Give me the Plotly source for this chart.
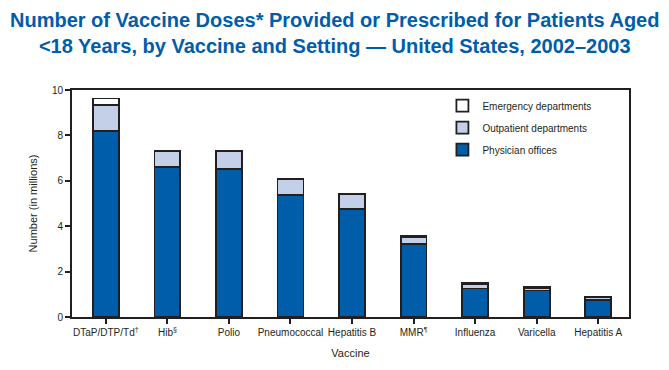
import plotly.graph_objects as go

vaccines = ["DTaP/DTP/Td<sup>†</sup>", "Hib<sup>§</sup>", "Polio", "Pneumococcal",
            "Hepatitis B", "MMR<sup>¶</sup>", "Influenza", "Varicella", "Hepatitis A"]
physician_offices = [8.2, 6.62, 6.53, 5.36, 4.77, 3.2, 1.26, 1.17, 0.76]
outpatient_departments = [1.13, 0.68, 0.76, 0.71, 0.64, 0.34, 0.2, 0.1, 0.1]
emergency_departments = [0.3, 0.03, 0.02, 0.02, 0.02, 0.02, 0.03, 0.05, 0.04]
y_ticks = [0, 2, 4, 6, 8, 10]

FONT = "Liberation Sans, Arial, sans-serif"
line = dict(color="#231f20", width=1.8)

fig = go.Figure()
fig.add_trace(go.Bar(x=vaccines, y=physician_offices, name="Physician offices", legendgroup="a",
                     legendrank=3, marker=dict(color="#005DAA", line=line), width=0.42))
fig.add_trace(go.Bar(x=vaccines, y=outpatient_departments, name="Outpatient departments", legendgroup="b",
                     legendrank=2, marker=dict(color="#C4D0E8", line=line), width=0.42))
fig.add_trace(go.Bar(x=vaccines, y=emergency_departments, name="Emergency departments", legendgroup="c",
                     legendrank=1, marker=dict(color="#FFFFFF", line=line), width=0.42))

fig.update_layout(
    width=669, height=370,
    barmode="stack",
    plot_bgcolor="white", paper_bgcolor="white",
    margin=dict(l=72, r=40, t=90, b=53),
    font=dict(family=FONT, size=10, color="#231f20"),
    annotations=[dict(
        text="Number of Vaccine Doses* Provided or Prescribed for Patients Aged<br>&lt;18 Years, by Vaccine and Setting — United States, 2002–2003",
        xref="paper", yref="paper", x=0.5, y=1, xshift=-16,
        yanchor="bottom", xanchor="center", showarrow=False, yshift=31,
        font=dict(family=FONT, size=20, color="#005DAA", weight="bold"),
    )],
    legend=dict(
        x=0.665, y=0.995, xanchor="left", yanchor="top",
        traceorder="grouped", tracegroupgap=3,
        bgcolor="rgba(0,0,0,0)",
        font=dict(size=10, color="#231f20"),
    ),
    showlegend=True,
)
fig.update_xaxes(
    range=[-0.55, 8.5],
    showline=True, linecolor="#231f20", linewidth=2, mirror=True,
    ticks="outside", ticklen=5, tickwidth=1.5, tickcolor="#231f20",
    tickfont=dict(size=10), showgrid=False,
    title=dict(text="Vaccine", font=dict(size=11), standoff=12),
)
fig.update_yaxes(
    range=[0, 10], tickvals=y_ticks,
    showline=True, linecolor="#231f20", linewidth=2, mirror=True,
    ticks="outside", ticklen=5, tickwidth=1.5, tickcolor="#231f20",
    tickfont=dict(size=10), showgrid=False, zeroline=False,
    title=dict(text="Number (in millions)", font=dict(size=11), standoff=12),
)

fig.write_html("out.html", config={"displayModeBar": False})
with open("out.html", encoding="utf-8") as f:
    html = f.read()
html = html.replace("<head>", "<head><style>html,body{margin:0;padding:0;}</style>", 1)
with open("out.html", "w", encoding="utf-8") as f:
    f.write(html)
